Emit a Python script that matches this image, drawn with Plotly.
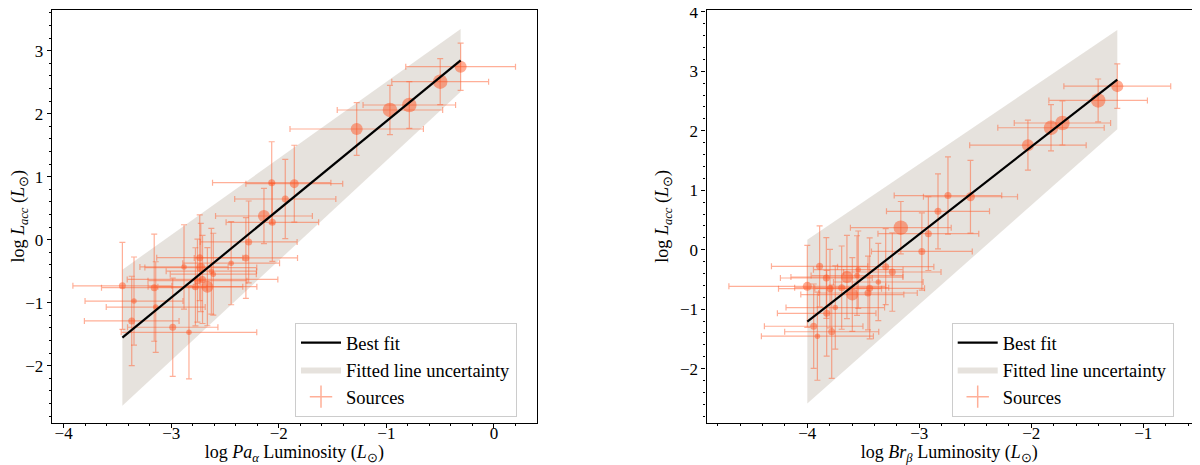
import numpy as np
import plotly.graph_objects as go

# ---- Pa alpha panel (left) ----
pa_x = [-0.31, -0.50, -0.787, -0.967, -1.276, -1.856, -2.066, -1.94, -2.138, -2.06,
        -2.28, -2.306, -2.443, -2.609, -2.627, -2.735, -2.725, -2.664, -2.709, -2.756,
        -2.775, -2.881, -2.986, -2.835, -3.158, -3.144, -3.346, -3.367, -3.454]
pa_y = [2.746, 2.508, 2.138, 2.059, 1.757, 0.889, 0.905, 0.646, 0.376, 0.275,
        -0.036, -0.29, -0.373, -0.548, -0.50, -0.286, -0.442, -0.746, -0.63, -0.65,
        -0.748, -0.433, -1.39, -1.47, -0.762, -1.07, -0.975, -1.29, -0.733]
pa_xerr = [0.51, 0.45, 0.43, 0.49, 0.62, 0.45, 0.55, 0.47, 0.45, 0.43,
           0.45, 0.48, 0.45, 0.40, 0.42, 0.40, 0.52, 0.46, 0.70, 0.46,
           0.44, 0.41, 0.42, 0.63, 0.49, 0.46, 0.455, 0.44, 0.46]
pa_yerr = [0.375, 0.365, 0.37, 0.39, 0.42, 0.61, 0.65, 0.63, 0.44, 0.62,
           0.65, 0.64, 0.66, 0.65, 0.68, 0.68, 0.70, 0.62, 0.70, 0.66,
           0.62, 0.67, 0.78, 0.74, 0.85, 0.72, 0.70, 0.71, 0.69]
pa_weight = [4, 5, 5, 5, 4, 3, 2, 2, 4, 2,
             2, 2, 1, 1, 1, 2, 3, 4, 2, 2,
             2, 1, 2, 1, 2, 1, 1, 2, 2]
pa_fit = dict(slope=1.40, slope_err=0.185, icpt=3.28, icpt_err=0.44)

# ---- Br beta panel (right) ----
br_x = [-1.232, -1.403, -1.722, -1.824, -2.03, -2.543, -2.744, -2.833, -3.165, -2.919,
        -2.977, -3.30, -3.241, -3.366, -3.83, -3.89, -3.646, -3.598, -3.693, -3.797,
        -3.458, -3.556, -3.782, -3.91, -3.443, -3.827, -3.75, -3.943, -4.0, -3.545]
br_y = [2.75, 2.51, 2.13, 2.05, 1.757, 0.89, 0.91, 0.645, 0.37, 0.27,
        -0.03, -0.285, -0.375, -0.543, -0.476, -0.28, -0.46, -0.755, -0.638, -0.655,
        -0.728, -0.436, -1.38, -1.455, -0.65, -1.07, -0.973, -1.287, -0.616, -0.336]
br_xerr = [0.477, 0.44, 0.43, 0.475, 0.52, 0.42, 0.48, 0.46, 0.45, 0.45,
           0.45, 0.43, 0.435, 0.40, 0.41, 0.43, 0.50, 0.46, 0.42, 0.46,
           0.44, 0.41, 0.42, 0.50, 0.49, 0.44, 0.44, 0.44, 0.70, 0.40]
br_yerr = [0.375, 0.36, 0.37, 0.39, 0.42, 0.61, 0.65, 0.63, 0.44, 0.62,
           0.65, 0.64, 0.66, 0.65, 0.68, 0.68, 0.70, 0.62, 0.70, 0.66,
           0.62, 0.67, 0.785, 0.74, 0.85, 0.72, 0.70, 0.71, 0.69, 0.65]
br_weight = [4, 5, 5, 5, 4, 3, 2, 2, 5, 2,
             2, 2, 2, 1, 2, 2, 4, 4, 2, 2,
             2, 1, 2, 1, 2, 2, 1, 2, 3, 1]
br_fit = dict(slope=1.47, slope_err=0.197, icpt=4.67, icpt_err=0.59)

FONT = "Liberation Serif, Times New Roman, serif"
PT_COLOR = "rgba(255,80,30,0.68)"
ERR_COLOR = "rgba(255,95,50,0.5)"
BAND_COLOR = "rgba(200,190,180,0.45)"
SIZE_PX = {1: 5.5, 2: 7, 3: 9, 4: 12, 5: 14.5}

# the page body keeps an 8px margin, so the figure is drawn 8px smaller
W, H = 1192, 457


def px_x(px):
    return (px - 8) / W


def px_y(px):
    return 1 - (px - 8) / H


def add_panel(fig, x, y, xerr, yerr, weight, fit, xa, ya, legend):
    x = np.array(x)
    xs = np.array([x.min(), x.max()])
    a, da, b, db = fit["slope"], fit["slope_err"], fit["icpt"], fit["icpt_err"]
    upper = (a - da) * xs + (b + db)
    lower = (a + da) * xs + (b - db)

    fig.add_trace(go.Scatter(
        x=np.concatenate([xs, xs[::-1]]), y=np.concatenate([upper, lower[::-1]]),
        fill="toself", fillcolor=BAND_COLOR, line=dict(width=0), mode="lines",
        name="Fitted line uncertainty", legendrank=2, xaxis=xa, yaxis=ya, legend=legend))

    fig.add_trace(go.Scatter(
        x=x, y=y, mode="markers",
        marker=dict(size=[SIZE_PX[w] for w in weight], color=PT_COLOR, line=dict(width=0)),
        error_x=dict(type="data", array=xerr, color=ERR_COLOR, thickness=1.2, width=3),
        error_y=dict(type="data", array=yerr, color=ERR_COLOR, thickness=1.2, width=3),
        showlegend=False, xaxis=xa, yaxis=ya))

    fig.add_trace(go.Scatter(
        x=xs, y=a * xs + b, mode="lines", line=dict(color="black", width=2.2),
        name="Best fit", legendrank=1, xaxis=xa, yaxis=ya, legend=legend))

    fig.add_trace(go.Scatter(
        x=[None], y=[None], mode="markers",
        marker=dict(symbol="cross-thin", size=17, line=dict(color=ERR_COLOR, width=1.5)),
        name="Sources", legendrank=3, xaxis=xa, yaxis=ya, legend=legend))


fig = go.Figure()
add_panel(fig, pa_x, pa_y, pa_xerr, pa_yerr, pa_weight, pa_fit, "x", "y", "legend")
add_panel(fig, br_x, br_y, br_xerr, br_yerr, br_weight, br_fit, "x2", "y2", "legend2")

axis_style = dict(
    showline=True, mirror=True, linecolor="black", linewidth=1.2,
    ticks="outside", ticklen=4, tickwidth=1, tickcolor="black", dtick=1,
    minor=dict(ticks="outside", ticklen=2, tickcolor="black", dtick=0.2),
    showgrid=False, zeroline=False, automargin=False, ticklabeloverflow="allow",
    tickfont=dict(family=FONT, size=17, color="black"),
)
title_font = dict(family=FONT, size=18, color="black")
ylab = "log <i>L<sub>acc</sub></i> (<i>L</i><sub>⊙</sub>)"
legend_style = dict(
    y=px_y(323), xanchor="left", yanchor="top",
    bgcolor="rgba(255,255,255,0.8)", bordercolor="#cccccc", borderwidth=1,
    font=dict(family=FONT, size=18.5, color="black"), itemwidth=40,
)
y_dom = [px_y(422.7), px_y(10)]

fig.update_layout(
    width=W, height=H,
    margin=dict(l=0, r=0, t=0, b=0),
    paper_bgcolor="white", plot_bgcolor="white",
    font=dict(family=FONT, color="black"),
    xaxis=dict(axis_style, domain=[px_x(51.8), px_x(536.8)], range=[-4.11, 0.398], anchor="y",
               ticklabelstandoff=-9,
               title=dict(text="log <i>Pa<sub>α</sub></i> Luminosity (<i>L</i><sub>⊙</sub>)",
                          font=title_font, standoff=8)),
    yaxis=dict(axis_style, domain=y_dom, range=[-2.905, 3.646], anchor="x",
               title=dict(text=ylab, font=title_font, standoff=6)),
    xaxis2=dict(axis_style, domain=[px_x(706.5), px_x(1192)], range=[-4.90, -0.565], anchor="y2",
                ticklabelstandoff=-9,
                title=dict(text="log <i>Br<sub>β</sub></i> Luminosity (<i>L</i><sub>⊙</sub>)",
                           font=title_font, standoff=8)),
    yaxis2=dict(axis_style, domain=y_dom, range=[-2.909, 4.03], anchor="x2",
                title=dict(text=ylab, font=title_font, standoff=6)),
    legend=dict(legend_style, x=px_x(295)),
    legend2=dict(legend_style, x=px_x(951.7)),
)

fig.write_html("out.html")
